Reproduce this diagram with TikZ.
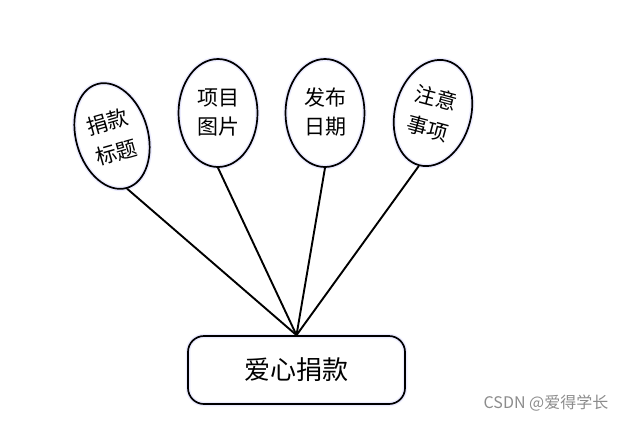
\documentclass[tikz,border=0pt]{standalone}
\usepackage{fontspec}
\newfontfamily\cjk{Noto Sans CJK SC}
\usetikzlibrary{shapes.geometric}
\begin{document}
\begin{tikzpicture}[x=1pt,y=-1pt,
  glow/.style={preaction={draw=blue!8,line width=4.5pt}},
  attr/.style={ellipse,draw,line width=1.7pt,glow,minimum width=79pt,minimum height=108pt,inner sep=0pt},
  lbl/.style={inner sep=0pt,font=\cjk\fontsize{21}{24}\selectfont},
  entity/.style={rectangle,rounded corners=16pt,draw,line width=1.7pt,glow,minimum width=217pt,minimum height=68pt,font=\cjk\fontsize{26}{30}\selectfont},
  link/.style={line width=1.9pt}]
\useasboundingbox (0,0) rectangle (629,421);
\node[attr,rotate=16,minimum width=72pt] (e1) at (112,136) {};
\node[attr] (e2) at (218,113) {};
\node[attr] (e3) at (325,113) {};
\node[attr,rotate=-15,minimum width=76pt] (e4) at (433,113) {};
\begin{scope}[shift={(112,137)},rotate=16]
  \node[lbl,transform shape] (t1a) at (0,-16) {捐款};
  \node[lbl,transform shape] (t1b) at (0,16) {标题};
\end{scope}
\node[lbl] (t2a) at (218,98) {项目};
\node[lbl] (t2b) at (218,127) {图片};
\node[lbl] (t3a) at (325,98) {发布};
\node[lbl] (t3b) at (325,127) {日期};
\begin{scope}[shift={(432,113)},rotate=-15]
  \node[lbl,transform shape] (t4a) at (0,-16) {注意};
  \node[lbl,transform shape] (t4b) at (0,16) {事项};
\end{scope}
\node[entity] (b) at (296.5,370) {爱心捐款};
\draw[link] (e1.south) -- (b.north);
\draw[link] (e2.south) -- (b.north);
\draw[link] (e3.south) -- (b.north);
\draw[link] (e4.south) -- (b.north);
\node[text=black!45,font=\cjk\fontsize{16}{18}\selectfont] (wm) at (546,403) {CSDN @爱得学长};
\end{tikzpicture}
\end{document}
